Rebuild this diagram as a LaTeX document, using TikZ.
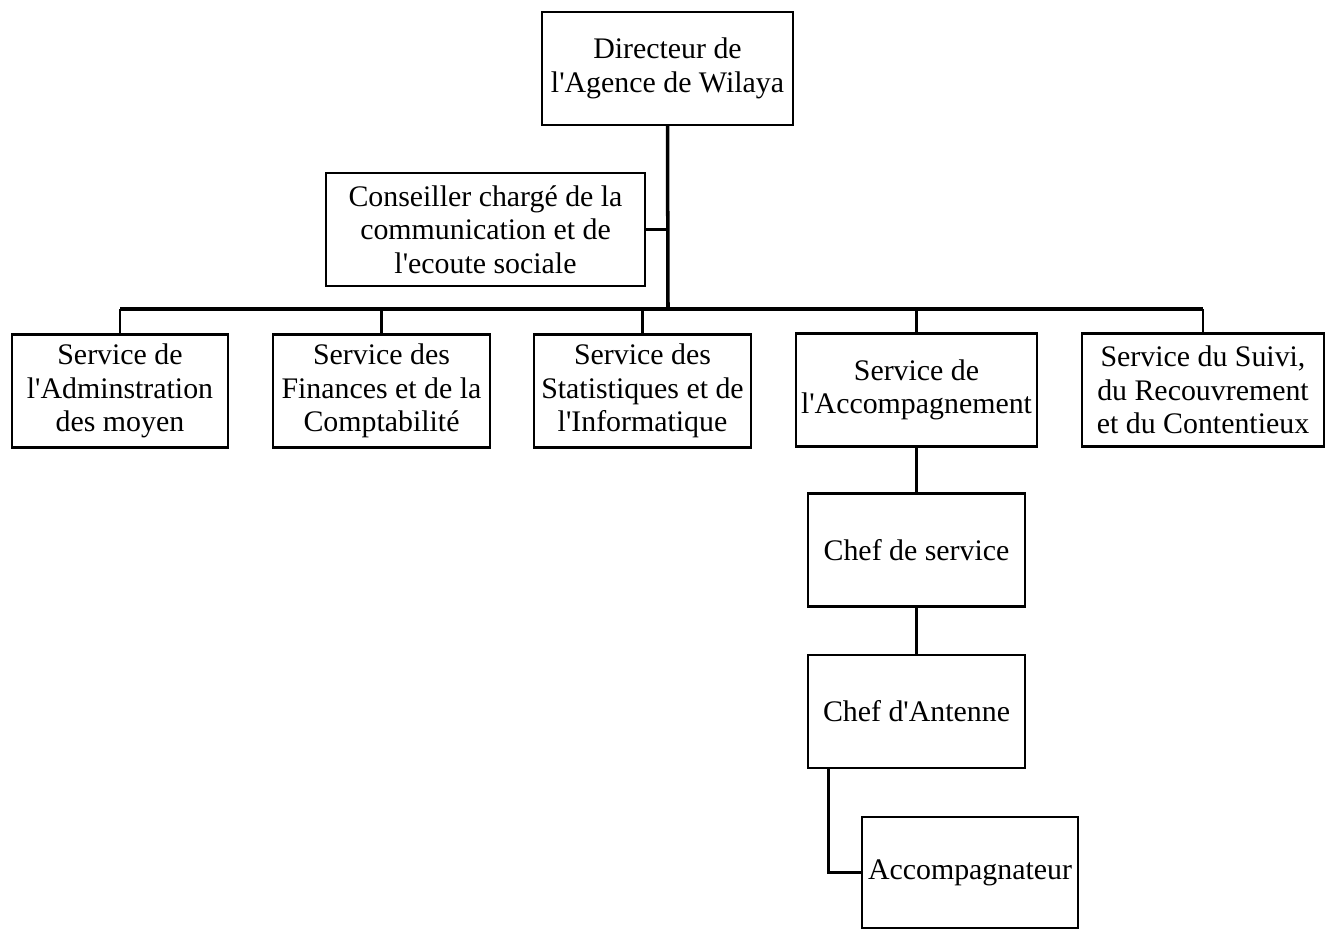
\documentclass[tikz,border=0pt]{standalone}
\usepackage{fontspec}
\setmainfont{Liberation Serif}[Ligatures=TeXOff]
\usepackage{tikz}

\begin{document}
\begin{tikzpicture}[x=0.02cm,y=-0.02cm,
  box/.style={draw,line width=1.4pt,align=center,inner xsep=0pt,
    minimum height=2.26cm,font=\fontsize{17}{19}\selectfont},
  link/.style={line width=1.5pt}]
  \useasboundingbox[fill=white] (0,0) rectangle (1331,929);
  \node[box,minimum width=5.02cm] (dir) at (667.5,68.5) {Directeur de\\l'Agence de Wilaya};
  \node[box,minimum width=6.38cm] (cons) at (485.5,229.5) {Conseiller chargé de la\\communication et de\\l'ecoute sociale};
  \node[box,minimum width=4.32cm] (adm) at (120,391) {Service de\\l'Adminstration\\des moyen};
  \node[box,minimum width=4.34cm] (fin) at (381.5,391) {Service des\\Finances et de la\\Comptabilité};
  \node[box,minimum width=4.34cm] (stat) at (642.5,391) {Service des\\Statistiques et de\\l'Informatique};
  \node[box,minimum width=4.82cm] (acc) at (916.5,390) {Service de\\l'Accompagnement};
  \node[box,minimum width=4.84cm] (suivi) at (1203,390) {Service du Suivi,\\du Recouvrement\\et du Contentieux};
  \node[box,minimum width=4.34cm] (chef) at (916.5,550) {Chef de service};
  \node[box,minimum width=4.34cm] (ant) at (916.5,711.5) {Chef d'Antenne};
  \node[box,minimum width=4.32cm,minimum height=2.22cm] (accomp) at (970,872.5) {Accompagnateur};
  \coordinate (bus) at (668,309);
  \draw[link,line width=2pt] (dir.south) -- (bus);
  \draw[link] (cons.east) -- (cons.east -| bus);
  \draw[link,line width=1.8pt] (adm.north |- bus) -- (suivi.north |- bus);
  \foreach \s in {adm,fin,stat,acc,suivi}
    \draw[link] (\s.north |- bus) -- (\s.north);
  \draw[link] (acc.south) -- (chef.north);
  \draw[link] (chef.south) -- (ant.north);
  \draw[link] ([xshift=0.44cm]ant.south west) |- (accomp.west);
\end{tikzpicture}
\end{document}
